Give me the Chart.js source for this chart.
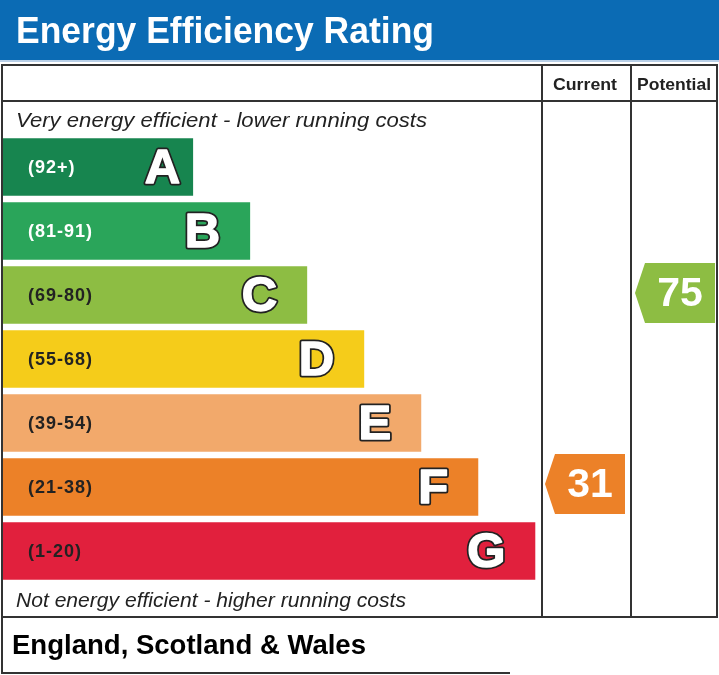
<!DOCTYPE html>
<html>
<head>
<meta charset="utf-8">
<script src="https://cdn.jsdelivr.net/npm/chart.js@4.4.1/dist/chart.umd.min.js"></script>
<style>
  html, body { margin: 0; padding: 0; background: #fff; }
</style>
</head>
<body>
<canvas id="epc" width="719" height="675"></canvas>
<script>
// rating bands, top (best) to bottom (worst)
const bands = ['A', 'B', 'C', 'D', 'E', 'F', 'G'];
const bandRanges = ['(92+)', '(81-91)', '(69-80)', '(55-68)', '(39-54)', '(21-38)', '(1-20)'];
const bandMin = [92, 81, 69, 55, 39, 21, 1];
// relative bar lengths, each band one step longer than the one above
const barLengths = [10, 13, 16, 19, 22, 25, 28];
const bandColors = ['#17854f', '#2aa55a', '#8dbd43', '#f5cc1a', '#f2a96b', '#ec8128', '#e1203d'];
const labelColors = ['#fff', '#fff', '#222', '#222', '#222', '#222', '#222'];

const currentRating = 31;
const potentialRating = 75;

const FONT = '"Liberation Sans", Arial, Helvetica, sans-serif';

// which band a rating falls into
const bandOf = (score) => {
    for (let i = 0; i < bandMin.length; i++) {
        if (score >= bandMin[i]) return i;
    }
    return bandMin.length - 1;
};

// draw text squeezed / stretched to a given width
function fitText(ctx, text, x, y, font, width, color) {
    ctx.save();
    ctx.font = font;
    ctx.fillStyle = color;
    ctx.textAlign = 'left';
    ctx.textBaseline = 'alphabetic';
    const w = ctx.measureText(text).width;
    ctx.translate(x, y);
    ctx.scale(width / w, 1);
    ctx.fillText(text, 0, 0);
    ctx.restore();
}

// arrow marker pointing left, used for current / potential ratings
function drawArrow(ctx, tipX, right, yMid, h, color, text) {
    const top = yMid - h / 2, bottom = yMid + h / 2;
    const notch = tipX + 10;
    ctx.save();
    ctx.fillStyle = color;
    ctx.beginPath();
    ctx.moveTo(tipX, yMid);
    ctx.lineTo(notch, top);
    ctx.lineTo(right, top);
    ctx.lineTo(right, bottom);
    ctx.lineTo(notch, bottom);
    ctx.closePath();
    ctx.fill();
    ctx.fillStyle = '#fff';
    ctx.font = 'bold 41px ' + FONT;
    ctx.textAlign = 'center';
    ctx.textBaseline = 'middle';
    ctx.fillText(text, (notch + right) / 2, yMid + 2);
    ctx.restore();
}

const epcFrame = {
    id: 'epcFrame',
    beforeDraw(chart) {
        const ctx = chart.ctx;
        ctx.save();
        ctx.fillStyle = '#fff';
        ctx.fillRect(0, 0, chart.width, chart.height);

        // blue title band
        ctx.fillStyle = '#0b6bb4';
        ctx.fillRect(0, 0, 719, 60);
        ctx.fillStyle = '#b9d0e8';
        ctx.fillRect(0, 60, 719, 2);
        fitText(ctx, 'Energy Efficiency Rating', 16, 43, 'bold 36px ' + FONT, 418, '#fff');

        // table lines
        ctx.strokeStyle = '#333';
        ctx.lineWidth = 2;
        ctx.strokeRect(2, 65, 715, 552);
        ctx.beginPath();
        ctx.moveTo(2, 101); ctx.lineTo(717, 101);
        ctx.moveTo(542, 65); ctx.lineTo(542, 617);
        ctx.moveTo(631, 65); ctx.lineTo(631, 617);
        // footer box
        ctx.moveTo(2, 617); ctx.lineTo(2, 673); ctx.lineTo(510, 673);
        ctx.stroke();

        ctx.fillStyle = '#222';
        ctx.textBaseline = 'alphabetic';
        fitText(ctx, 'Current', 553, 90, 'bold 17px ' + FONT, 64, '#222');
        fitText(ctx, 'Potential', 637, 90, 'bold 17px ' + FONT, 74, '#222');

        fitText(ctx, 'Very energy efficient - lower running costs', 16, 127, 'italic 20px ' + FONT, 411, '#222');
        fitText(ctx, 'Not energy efficient - higher running costs', 16, 607, 'italic 20px ' + FONT, 390, '#222');
        fitText(ctx, 'England, Scotland & Wales', 12, 654, 'bold 28px ' + FONT, 354, '#000');
        ctx.restore();
    },
    afterDatasetsDraw(chart) {
        const ctx = chart.ctx;
        const meta = chart.getDatasetMeta(0);
        const yScale = chart.scales.y;
        ctx.save();
        meta.data.forEach((bar, i) => {
            const yMid = yScale.getPixelForValue(i);
            // range label
            ctx.font = 'bold 18px ' + FONT;
            ctx.letterSpacing = '1px';
            ctx.fillStyle = labelColors[i];
            ctx.textAlign = 'left';
            ctx.textBaseline = 'middle';
            ctx.fillText(bandRanges[i], 28, yMid + 1);
            ctx.letterSpacing = '0px';
            // big outlined letter (the A sits closer to its short bar end)
            const lx = bar.x - (i === 0 ? 13 : 30);
            ctx.font = 'bold 49px ' + FONT;
            ctx.textAlign = 'right';
            ctx.lineJoin = 'round';
            ctx.lineWidth = 5;
            ctx.strokeStyle = '#222';
            ctx.strokeText(bands[i], lx, yMid + 2);
            ctx.lineWidth = 1.5;
            ctx.strokeStyle = '#fff';
            ctx.strokeText(bands[i], lx, yMid + 2);
            ctx.fillStyle = '#fff';
            ctx.fillText(bands[i], lx, yMid + 2);
        });
        ctx.restore();

        const cur = bandOf(currentRating);
        const pot = bandOf(potentialRating);
        drawArrow(ctx, 545, 625, yScale.getPixelForValue(cur) - 3, 60, bandColors[cur], String(currentRating));
        drawArrow(ctx, 635, 715, yScale.getPixelForValue(pot) - 2, 60, bandColors[pot], String(potentialRating));
    }
};

const ctx = document.getElementById('epc').getContext('2d');

const chart = new Chart(ctx, {
    type: 'bar',
    data: {
        labels: bands,
        datasets: [{
            data: barLengths,
            backgroundColor: bandColors,
            borderWidth: 0,
            barPercentage: 0.895,
            categoryPercentage: 1
        }]
    },
    options: {
        indexAxis: 'y',
        responsive: false,
        animation: false,
        devicePixelRatio: 1,
        layout: { padding: { left: 3, right: 178, top: 135, bottom: 92 } },
        scales: {
            x: { display: false, min: 0, max: 28.3 },
            y: { display: false }
        },
        plugins: {
            legend: { display: false },
            tooltip: { enabled: false }
        }
    },
    plugins: [epcFrame]
});
</script>
</body>
</html>
